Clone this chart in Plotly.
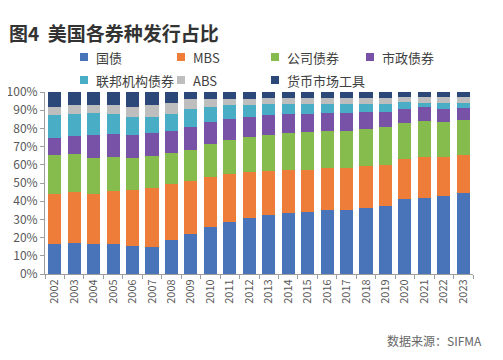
import plotly.graph_objects as go

years = [str(y) for y in range(2002, 2024)]

# cumulative tops (percent), converted to shares below
top_treasury = [16.3, 17.0, 16.6, 16.6, 15.2, 14.8, 18.5, 22.1, 25.8, 28.7, 30.5, 32.4, 33.3, 34.0, 34.9, 35.1, 36.2, 37.1, 41.1, 41.7, 42.6, 44.6]
top_mbs = [44.0, 45.2, 44.0, 45.5, 45.9, 47.0, 49.2, 51.0, 53.2, 55.0, 55.8, 56.7, 56.9, 57.2, 58.0, 58.0, 59.2, 60.1, 63.4, 64.5, 64.5, 65.6]
top_corp = [65.3, 66.2, 63.8, 64.4, 63.8, 64.9, 66.4, 68.2, 71.5, 73.7, 75.1, 76.6, 77.3, 77.9, 78.4, 78.8, 79.7, 80.6, 83.2, 84.3, 83.7, 84.5]
top_muni = [75.0, 75.9, 76.6, 77.0, 76.2, 77.3, 78.8, 80.6, 83.5, 85.0, 86.1, 87.2, 87.9, 87.9, 88.3, 88.3, 88.8, 89.2, 90.8, 91.6, 90.9, 91.2]
top_agency = [87.2, 88.1, 88.5, 87.9, 86.1, 86.5, 87.9, 90.6, 91.6, 92.7, 93.0, 93.4, 93.4, 93.4, 93.4, 93.2, 93.4, 93.2, 94.5, 94.1, 94.1, 94.1]
top_abs = [91.9, 92.7, 93.0, 93.0, 91.6, 93.0, 94.1, 96.2, 96.3, 96.3, 96.3, 96.7, 96.7, 96.7, 96.7, 96.9, 96.7, 96.7, 97.3, 97.1, 97.1, 97.1]
top_money = [100.0] * 22

series_names = ["国债", "MBS", "公司债券", "市政债券", "联邦机构债券", "ABS", "货币市场工具"]
series_colors = ["#4A74BA", "#EE7D3A", "#86BC4E", "#7752A6", "#4AADC6", "#BEBEBE", "#2B4878"]

tops = [top_treasury, top_mbs, top_corp, top_muni, top_agency, top_abs, top_money]
shares = []
prev = [0.0] * len(years)
for t in tops:
    shares.append([round(a - b, 2) for a, b in zip(t, prev)])
    prev = t

# the page body has an 8px margin, so the figure is drawn 8px in from the window edge
OFF = 8
W, H = 503 - OFF, 360 - OFF
L, T = 45 - OFF, 92 - OFF
R = W - (473 - OFF)
B = H - (274 - OFF)
PW, PH = W - L - R, H - T - B


def px(x):
    return (x - OFF - L) / PW


def py(y):
    return (H - B - (y - OFF)) / PH


fig = go.Figure()
for name, color, vals in zip(series_names, series_colors, shares):
    fig.add_trace(go.Bar(x=years, y=vals, name=name, marker=dict(color=color, line=dict(width=0))))

# legend drawn as swatches + labels (two rows, four columns)
legend_cols = [84, 181, 275, 370]
legend_rows = [57, 80]
shapes = []
annotations = []
for i, (name, color) in enumerate(zip(series_names, series_colors)):
    row, col = divmod(i, 4)
    cx, cy = legend_cols[col], legend_rows[row]
    shapes.append(dict(type="rect", xref="paper", yref="paper",
                       x0=px(cx - 4), x1=px(cx + 4), y0=py(cy + 4), y1=py(cy - 4),
                       fillcolor=color, line=dict(width=0)))
    annotations.append(dict(text=name, xref="paper", yref="paper", x=px(cx + 10), y=py(cy),
                            xanchor="left", yanchor="middle", showarrow=False,
                            font=dict(size=13, color="#404040")))

annotations.append(dict(text="<b>图4  美国各券种发行占比</b>", xref="paper", yref="paper",
                        x=px(7), y=py(32), xanchor="left", yanchor="middle", showarrow=False,
                        font=dict(size=19, color="#333333")))
annotations.append(dict(text="数据来源：SIFMA", xref="paper", yref="paper",
                        x=px(484), y=py(340), xanchor="right", yanchor="middle", showarrow=False,
                        font=dict(size=12, color="#666666")))

fig.update_layout(
    width=W, height=H,
    barmode="stack", bargap=0.33,
    plot_bgcolor="white", paper_bgcolor="white",
    margin=dict(l=L, r=R, t=T, b=B, autoexpand=False),
    font=dict(family="Noto Sans CJK SC, Noto Sans, sans-serif", color="#595959"),
    showlegend=False,
    shapes=shapes,
    annotations=annotations,
)
fig.update_yaxes(range=[0, 100], dtick=10, ticksuffix="%", showgrid=False, zeroline=False,
                 showline=True, linecolor="#9E9E9E", linewidth=1, ticks="outside", ticklen=4,
                 tickcolor="#9E9E9E", tickfont=dict(size=12, color="#595959"))
fig.update_xaxes(type="category", tickangle=-90, showgrid=False, showline=True,
                 linecolor="#9E9E9E", linewidth=1, ticks="outside", ticklen=4, tickson="boundaries",
                 tickcolor="#9E9E9E", tickfont=dict(size=11, color="#595959"))

fig.write_html("out.html")
